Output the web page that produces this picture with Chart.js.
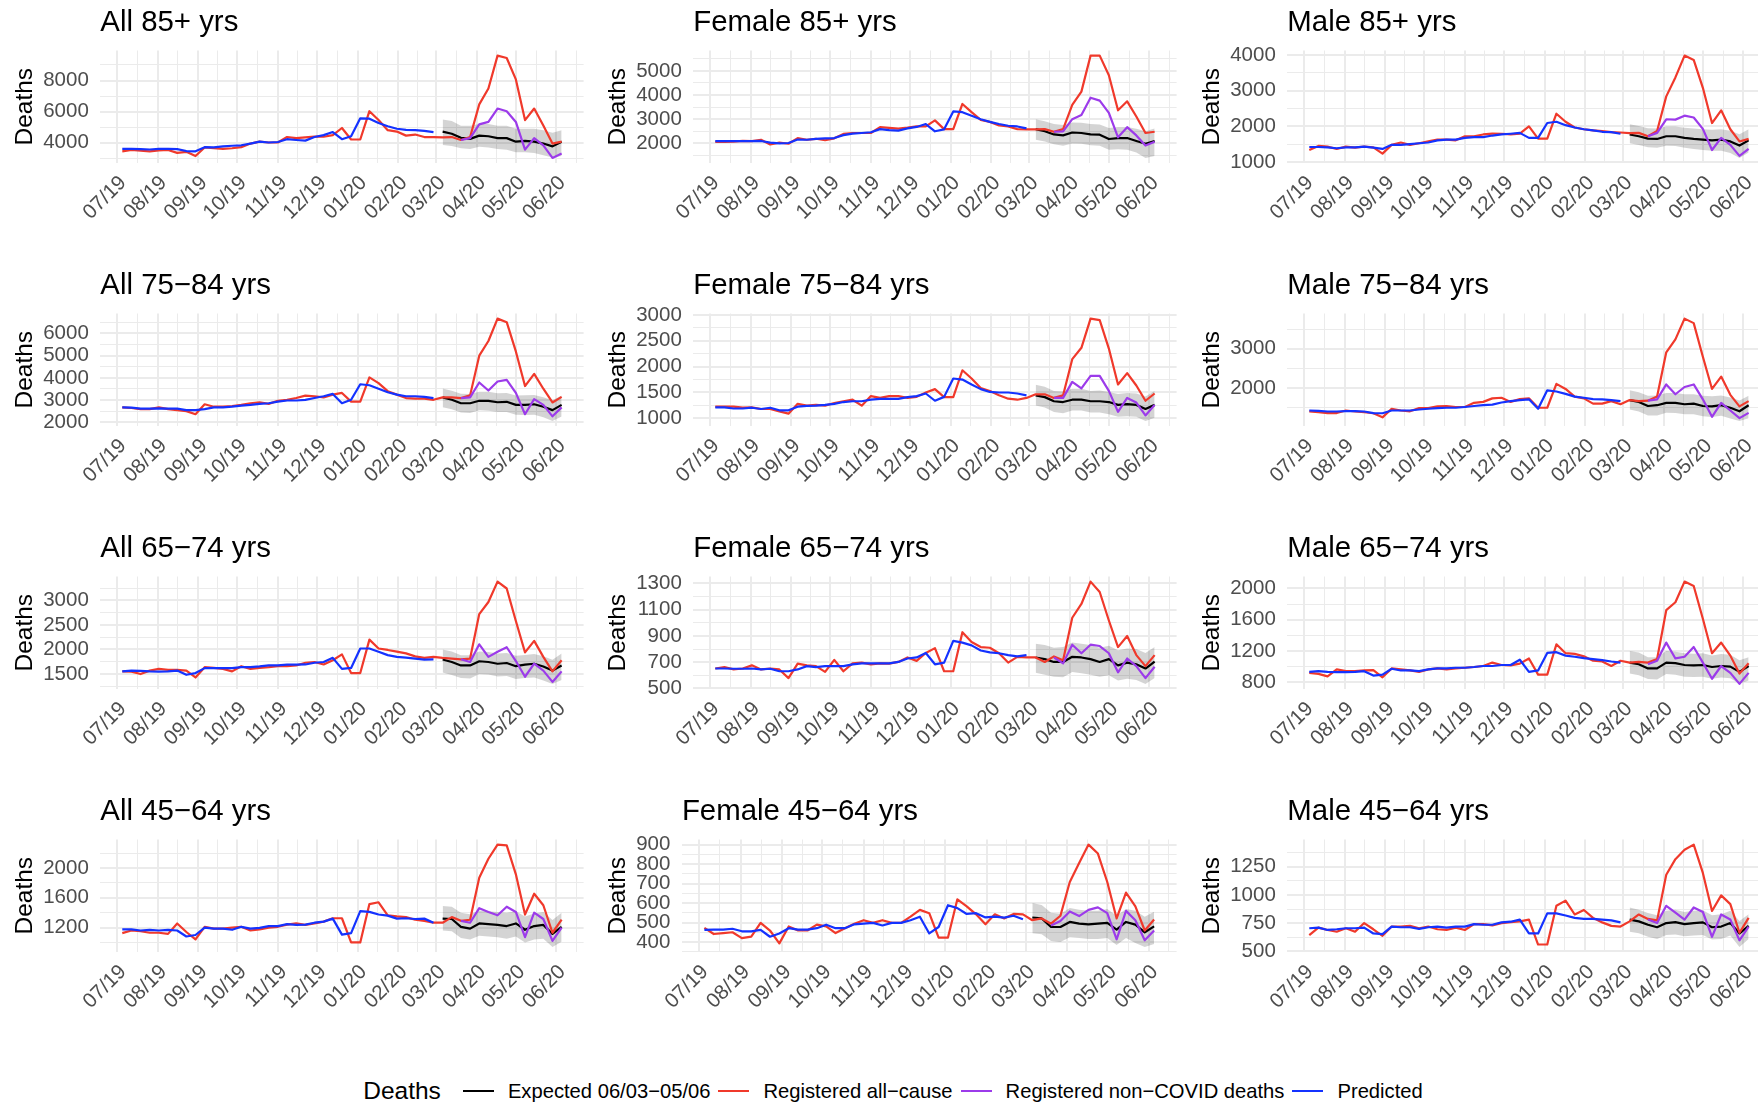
<!DOCTYPE html>
<html>
<head>
<meta charset="utf-8">
<title>Weekly deaths by sex and age group</title>
<script src="https://cdn.jsdelivr.net/npm/chart.js@4.4.0/dist/chart.umd.min.js"></script>
<style>
  html, body { margin: 0; padding: 0; background: #ffffff; overflow: hidden; width: 1758px; height: 1103px; }
  .panel { position: absolute; }
  #legend {
    position: absolute; left: 0; top: 1075px; width: 1794px; height: 32px;
    display: flex; align-items: center; justify-content: center;
    font-family: "Liberation Sans", Arimo, Arial, Helvetica, sans-serif; color: #000;
  }
  #legend .lg-title { font-size: 24.5px; margin-right: 22px; }
  #legend .lg-key { display: inline-block; width: 31px; height: 2.2px; margin-right: 14px; }
  #legend .lg-text { font-size: 20.2px; margin-right: 8px; white-space: nowrap; }
</style>
</head>
<body>
<div id="legend"></div>
<script>
// ---- categories: week-ending dates and month ticks ----
const weekEnding = [
  '2019-07-05','2019-07-12','2019-07-19','2019-07-26','2019-08-02','2019-08-09','2019-08-16','2019-08-23','2019-08-30',
  '2019-09-06','2019-09-13','2019-09-20','2019-09-27','2019-10-04','2019-10-11','2019-10-18','2019-10-25',
  '2019-11-01','2019-11-08','2019-11-15','2019-11-22','2019-11-29','2019-12-06','2019-12-13','2019-12-20','2019-12-27',
  '2020-01-03','2020-01-10','2020-01-17','2020-01-24','2020-01-31','2020-02-07','2020-02-14','2020-02-21','2020-02-28',
  '2020-03-06','2020-03-13','2020-03-20','2020-03-27','2020-04-03','2020-04-10','2020-04-17','2020-04-24',
  '2020-05-01','2020-05-08','2020-05-15','2020-05-22','2020-05-29','2020-06-05'
];
const monthStarts = ['2019-07-01','2019-08-01','2019-09-01','2019-10-01','2019-11-01','2019-12-01',
                     '2020-01-01','2020-02-01','2020-03-01','2020-04-01','2020-05-01','2020-06-01'];
const monthLabels = ['07/19','08/19','09/19','10/19','11/19','12/19','01/20','02/20','03/20','04/20','05/20','06/20'];
const monthBefore = '2019-06-01';
const monthAfter = '2020-07-01';

const panelTitles = [
  'All 85+ yrs', 'Female 85+ yrs', 'Male 85+ yrs',
  'All 75\u221284 yrs', 'Female 75\u221284 yrs', 'Male 75\u221284 yrs',
  'All 65\u221274 yrs', 'Female 65\u221274 yrs', 'Male 65\u221274 yrs',
  'All 45\u221264 yrs', 'Female 45\u221264 yrs', 'Male 45\u221264 yrs'
];
const seriesNames = ['Expected 06/03\u221205/06', 'Registered all\u2212cause', 'Registered non\u2212COVID deaths', 'Predicted'];
const yTickStep = [2000, 1000, 1000, 1000, 500, 1000, 500, 200, 400, 400, 100, 250];
const yTickBase = [0, 0, 0, 0, 0, 0, 0, 100, 0, 0, 0, 0];

// ---- All 85+ ----
const all85Registered = [3450,3540,3490,3450,3510,3540,3350,3420,3150,3700, 3650,3610,3650,3720,3950,4070,4020,4020,4370,4300,
  4350,4390,4390,4490,4950,4210,4210,6030,5460,4810, 4720,4460,4530,4370,4370,4350,4370,4180,4370,6470, 7490,9600,9450,8070,5460,6200,5110,3950,4070];
const all85Predicted = [3610,3610,3590,3570,3610,3610,3590,3470,3450,3720, 3700,3770,3810,3840,3950,4070,4020,4050,4230,4180,
  4140,4370,4490,4690,4230,4420,5570,5550,5270,5060, 4900,4830,4810,4760,4690];
const all85Expected = [4720,4580,4320,4250,4460,4420,4300,4300,4070,4120,4070,3950,3770,4070];
const all85Lower = [3850,3800,3650,3600,3750,3700,3600,3550,3400,3400,3350,3200,3050,3150];
const all85Upper = [5500,5400,5100,5100,5200,5200,5100,5100,4900,4900,4900,4800,4650,4800];
const all85NonCovid = [4180,4300,5180,5340,6200,6030,5340,3560,4300,3840,3030,3310];

// ---- Female 85+ ----
const fem85Registered = [2060,2060,2075,2100,2090,2150,1955,2030,1985,2220, 2150,2190,2130,2210,2390,2430,2430,2430,2670,2640,
  2610,2650,2700,2700,2950,2590,2590,3630,3290,2970, 2890,2740,2700,2590,2580,2580,2590,2480,2590,3590, 4140,5630,5630,4820,3370,3740,3110,2430,2480];
const fem85Predicted = [2090,2090,2090,2090,2090,2100,2030,2000,2015,2160, 2150,2190,2210,2220,2340,2400,2430,2460,2590,2550,
  2530,2620,2680,2800,2500,2580,3320,3290,3140,3000, 2890,2800,2730,2700,2620];
const fem85Expected = [2590,2500,2370,2330,2450,2430,2370,2360,2180,2220,2220,2100,1985,2100];
const fem85Lower = [2150,2080,1960,1900,2000,1980,1920,1900,1740,1760,1740,1620,1400,1480];
const fem85Upper = [3000,2920,2800,2760,2860,2850,2800,2780,2640,2680,2680,2600,2500,2620];
const fem85NonCovid = [2480,2500,3000,3170,3890,3770,3260,2250,2670,2330,1910,2070];

// ---- Male 85+ ----
const male85Registered = [1340,1455,1435,1370,1435,1405,1435,1415,1240,1485, 1550,1485,1530,1580,1630,1630,1610,1725,1725,1775,
  1800,1795,1775,1800,2000,1660,1660,2355,2130,1970, 1920,1890,1870,1840,1830,1815,1820,1725,1870,2840, 3370,3980,3860,3080,2095,2450,1920,1580,1650];
const male85Predicted = [1425,1425,1415,1390,1415,1415,1435,1405,1370,1485, 1485,1505,1530,1550,1610,1630,1630,1680,1700,1700,
  1745,1775,1795,1820,1680,1680,2095,2130,2035,1970, 1920,1890,1850,1840,1795];
const male85Expected = [1775,1725,1660,1650,1725,1725,1680,1650,1630,1610,1630,1580,1465,1610];
const male85Lower = [1530,1480,1420,1400,1460,1450,1400,1370,1340,1320,1320,1260,1120,1270];
const male85Upper = [2060,2010,1950,1940,2000,2000,1960,1940,1920,1910,1920,1880,1780,1920];
const male85NonCovid = [1725,1820,2200,2190,2300,2250,1930,1340,1680,1485,1175,1370];

// ---- All 75-84 ----
const all75Registered = [2670,2640,2590,2590,2670,2590,2545,2500,2360,2810, 2700,2700,2730,2780,2855,2900,2825,2965,3010,3090,
  3200,3170,3120,3245,3320,2930,2930,4020,3760,3400, 3245,3090,3060,3060,3010,3120,3120,3090,3210,5000, 5660,6670,6510,5190,3630,4180,3510,2890,3140];
const all75Predicted = [2670,2655,2610,2610,2625,2610,2610,2545,2545,2590, 2670,2670,2700,2750,2780,2825,2855,2930,2980,2980,
  3010,3090,3170,3275,2855,3010,3710,3665,3510,3350, 3245,3170,3170,3140,3090];
const all75Expected = [3120,3010,2855,2855,2965,2965,2900,2920,2780,2780,2810,2700,2545,2780];
const all75Lower = [2680,2580,2440,2420,2540,2520,2460,2460,2340,2320,2340,2220,2060,2260];
const all75Upper = [3520,3420,3280,3270,3370,3370,3310,3320,3200,3210,3230,3130,2990,3200];
const all75NonCovid = [3090,3120,3790,3430,3835,3910,3320,2360,3040,2780,2265,2670];

// ---- Female 75-84 ----
const fem75Registered = [1225,1225,1225,1205,1210,1180,1180,1135,1090,1280, 1245,1260,1245,1295,1330,1360,1245,1430,1395,1430,
  1430,1395,1415,1500,1565,1410,1410,1930,1770,1585, 1530,1445,1380,1360,1395,1465,1465,1395,1445,2145, 2365,2930,2900,2350,1655,1875,1635,1340,1480];
const fem75Predicted = [1210,1210,1190,1190,1205,1180,1205,1155,1155,1225, 1240,1245,1260,1280,1315,1330,1330,1360,1375,1375,
  1375,1410,1430,1480,1340,1415,1770,1750,1655,1565, 1510,1500,1500,1480,1445];
const fem75Expected = [1445,1410,1330,1315,1360,1360,1330,1330,1315,1260,1275,1260,1180,1260];
const fem75Lower = [1250,1210,1120,1100,1150,1150,1110,1110,1080,1030,1040,1030,950,1010];
const fem75Upper = [1650,1610,1530,1520,1570,1570,1530,1540,1510,1470,1490,1480,1420,1530];
const fem75NonCovid = [1395,1395,1705,1580,1820,1820,1530,1125,1395,1305,1055,1260];

// ---- Male 75-84 ----
const male75Registered = [1400,1380,1360,1360,1425,1400,1380,1355,1250,1470, 1425,1405,1485,1485,1530,1540,1515,1515,1620,1645,
  1735,1750,1645,1715,1735,1495,1495,2105,1975,1780, 1735,1600,1600,1665,1585,1690,1665,1675,1780,2910, 3240,3770,3655,2795,1975,2290,1825,1530,1665];
const male75Predicted = [1425,1415,1400,1400,1410,1410,1400,1360,1355,1425, 1425,1425,1450,1470,1485,1495,1495,1515,1540,1560,
  1575,1630,1665,1690,1710,1470,1940,1910,1850,1780, 1750,1715,1710,1690,1665];
const male75Expected = [1690,1645,1540,1560,1620,1620,1585,1600,1540,1530,1560,1495,1405,1560];
const male75Lower = [1450,1400,1300,1300,1370,1360,1330,1330,1280,1260,1290,1220,1160,1230];
const male75Upper = [1940,1890,1800,1810,1870,1870,1840,1840,1800,1790,1810,1760,1680,1800];
const male75NonCovid = [1675,1710,2090,1840,2025,2090,1710,1265,1620,1425,1230,1365];

// ---- All 65-74 ----
const all65Registered = [1555,1550,1500,1570,1605,1585,1585,1570,1430,1640, 1625,1605,1555,1660,1605,1625,1640,1660,1660,1675,
  1730,1745,1695,1780,1900,1520,1520,2200,2020,1990, 1955,1920,1860,1830,1850,1830,1815,1800,1815,2720, 2965,3380,3240,2580,1940,2175,1850,1555,1780];
const all65Predicted = [1555,1570,1565,1555,1550,1555,1570,1485,1520,1620, 1620,1620,1620,1640,1640,1655,1675,1675,1690,1690,
  1695,1730,1745,1830,1605,1625,2020,2020,1955,1885, 1850,1835,1815,1795,1800];
const all65Expected = [1795,1745,1675,1675,1760,1745,1710,1725,1660,1690,1710,1655,1570,1675];
const all65Lower = [1530,1480,1420,1410,1500,1490,1450,1460,1400,1420,1430,1370,1300,1380];
const all65Upper = [2000,1960,1880,1880,1960,1950,1920,1930,1870,1890,1910,1860,1790,1920];
const all65NonCovid = [1800,1745,2105,1850,1955,2045,1765,1445,1710,1570,1340,1555];

// ---- Female 65-74 ----
const fem65Registered = [652,663,645,652,676,645,652,645,579,689, 676,670,626,718,631,691,697,684,691,689,
  702,736,710,770,807,631,631,928,854,815, 810,768,697,741,736,736,702,744,715,1038, 1143,1313,1234,1017,815,899,754,670,754];
const fem65Predicted = [652,652,650,650,652,645,650,631,631,645, 670,663,670,670,670,684,691,691,691,691,
  702,728,736,770,684,697,862,849,828,789, 775,768,754,744,754];
const fem65Expected = [736,723,702,702,741,736,723,702,723,676,697,684,652,705];
const fem65Lower = [620,605,590,585,625,615,605,590,600,560,575,565,535,580];
const fem65Upper = [840,830,810,815,850,840,830,810,825,790,805,800,770,815];
const fem65NonCovid = [736,691,833,768,833,823,768,623,728,670,579,665];

// ---- Male 65-74 ----
const male65Registered = [919,906,875,963,941,941,950,954,862,976, 963,950,932,963,976,963,976,985,994,1007,
  1051,1020,1016,1038,1104,897,897,1285,1171,1162, 1131,1074,1065,1007,1074,1051,1060,1051,1096,1722, 1824,2088,2031,1612,1171,1307,1140,910,1043];
const male65Predicted = [932,941,932,928,928,932,941,884,897,972, 950,950,941,963,976,976,985,985,994,1007,
  1007,1020,1020,1087,932,950,1175,1184,1140,1126, 1109,1096,1082,1065,1051];
const male65Expected = [1051,1029,976,976,1051,1043,1020,1016,1020,994,1007,999,932,1007];
const male65Lower = [910,890,840,835,905,895,870,865,870,845,860,850,780,820];
const male65Upper = [1200,1180,1120,1120,1200,1190,1170,1165,1170,1140,1160,1150,1080,1120];
const male65NonCovid = [1029,1074,1307,1104,1126,1250,1051,844,1007,919,778,919];

// ---- All 45-64 ----
const all45Registered = [1125,1160,1150,1130,1130,1115,1255,1140,1040,1210, 1185,1185,1200,1210,1160,1175,1200,1210,1240,1255,
  1235,1255,1280,1325,1325,1000,1000,1515,1540,1365, 1350,1340,1305,1290,1265,1265,1340,1290,1305,1870, 2125,2315,2305,1915,1375,1655,1500,1130,1305];
const all45Predicted = [1175,1175,1160,1170,1160,1170,1160,1080,1100,1200, 1185,1185,1170,1210,1185,1195,1220,1220,1245,1235,
  1240,1265,1280,1320,1105,1125,1420,1410,1375,1360, 1320,1325,1315,1320,1265];
const all45Expected = [1320,1315,1210,1185,1255,1245,1235,1220,1255,1170,1220,1235,1115,1210];
const all45Lower = [1160,1150,1060,1040,1090,1080,1070,1050,1080,1000,1040,1050,940,1010];
const all45Upper = [1490,1480,1400,1380,1430,1420,1410,1400,1420,1350,1390,1410,1300,1400];
const all45NonCovid = [1290,1265,1460,1410,1365,1480,1410,1070,1400,1315,1020,1200];

// ---- Female 45-64 ----
const fem45Registered = [473,441,446,450,420,428,498,459,393,480, 459,459,489,480,446,471,494,512,498,512,
  498,498,530,565,548,423,423,619,583,542, 491,542,521,544,542,512,521,494,535,708, 806,900,854,708,521,654,583,459,516];
const fem45Predicted = [462,464,464,468,455,455,462,427,444,471, 464,464,471,489,471,471,491,494,498,485,
  498,498,512,530,444,477,589,574,544,548, 526,530,525,535,517];
const fem45Expected = [526,521,477,477,503,494,491,494,498,464,503,489,450,480];
const fem45Lower = [445,440,405,400,425,420,415,415,420,385,420,395,375,390];
const fem45Upper = [600,590,550,545,575,565,560,560,570,535,570,560,530,555];
const fem45NonCovid = [485,508,557,533,565,578,548,414,560,512,409,459];

// ---- Male 45-64 ----
const male45Registered = [644,711,690,674,705,674,751,696,638,720, 720,726,705,720,696,690,711,690,742,742,
  730,751,760,766,782,561,561,904,950,827, 867,797,757,726,720,766,827,788,775,1179, 1317,1400,1446,1195,858,996,919,665,797];
const male45Predicted = [705,711,690,696,705,705,711,659,653,720, 714,714,699,714,720,711,720,720,742,736,
  736,757,763,782,659,659,837,837,818,797, 788,788,782,775,757];
const male45Expected = [782,766,736,714,751,760,742,751,757,714,720,751,659,726];
const male45Lower = [675,660,630,610,645,650,635,640,645,605,610,640,540,610];
const male45Upper = [890,870,840,820,860,870,850,860,865,820,830,860,770,830];
const male45NonCovid = [782,751,904,843,782,889,849,629,827,782,598,720];

// ---- table of series per panel (row-major) ----
const panelSeries = [
  [all85Registered, all85Predicted, all85Expected, all85Lower, all85Upper, all85NonCovid],
  [fem85Registered, fem85Predicted, fem85Expected, fem85Lower, fem85Upper, fem85NonCovid],
  [male85Registered, male85Predicted, male85Expected, male85Lower, male85Upper, male85NonCovid],
  [all75Registered, all75Predicted, all75Expected, all75Lower, all75Upper, all75NonCovid],
  [fem75Registered, fem75Predicted, fem75Expected, fem75Lower, fem75Upper, fem75NonCovid],
  [male75Registered, male75Predicted, male75Expected, male75Lower, male75Upper, male75NonCovid],
  [all65Registered, all65Predicted, all65Expected, all65Lower, all65Upper, all65NonCovid],
  [fem65Registered, fem65Predicted, fem65Expected, fem65Lower, fem65Upper, fem65NonCovid],
  [male65Registered, male65Predicted, male65Expected, male65Lower, male65Upper, male65NonCovid],
  [all45Registered, all45Predicted, all45Expected, all45Lower, all45Upper, all45NonCovid],
  [fem45Registered, fem45Predicted, fem45Expected, fem45Lower, fem45Upper, fem45NonCovid],
  [male45Registered, male45Predicted, male45Expected, male45Lower, male45Upper, male45NonCovid]
];

// ---- styling ----
const FONT = '"Liberation Sans", Arimo, Arial, Helvetica, sans-serif';
const COLOR_EXPECTED = '#000000';
const COLOR_REGISTERED = '#F0392B';
const COLOR_NONCOVID = '#9C3BEA';
const COLOR_PREDICTED = '#1432FF';
const RIBBON_FILL = 'rgba(0,0,0,0.17)';
const GRID_COLOR = '#EBEBEB';
const TICK_COLOR = '#4D4D4D';
const TICK_SIZE = 20.5, AXIS_TITLE_SIZE = 24.5, TITLE_SIZE = 29.4;
const LINE_W = 2.2;

const PANEL_W = 593, PANEL_H = 263;
const COL_LEFT = [0, 593, 1187];
const ROW_TOP = [0, 263, 526, 789];
const PLOT_TOP = 50.5, PLOT_BOTTOM = 163, RIGHT_GAP = 9.4;
const TITLE_PAD_TOP = 5.6;
const YAXIS_EXTRA = 54.7;     // axis title + gaps beside the tick labels

Chart.defaults.font.family = FONT;

// ---- x positions (days since 1 July 2019) ----
const ORIGIN = Date.UTC(2019, 6, 1);
const dayOf = s => (Date.parse(s + 'T00:00:00Z') - ORIGIN) / 86400000;
const weekX = weekEnding.map(dayOf);
const xSpan = weekX[weekX.length - 1] - weekX[0];
const X_MIN = weekX[0] - 0.05 * xSpan;
const X_MAX = weekX[weekX.length - 1] + 0.05 * xSpan;
const majorX = monthStarts.map(dayOf);
const monthEdges = [dayOf(monthBefore), ...majorX, dayOf(monthAfter)];
const minorX = monthEdges.slice(1).map((d, i) => (d + monthEdges[i]) / 2).filter(v => v >= X_MIN && v <= X_MAX);
const xTickValues = [...majorX, ...minorX].sort((a, b) => a - b);
const xLabelOf = new Map(majorX.map((d, i) => [d, monthLabels[i]]));

function points(values, alignEnd) {
  const offset = alignEnd ? weekX.length - values.length : 0;
  return values.map((v, i) => ({ x: weekX[offset + i], y: v }));
}

function yTicksFor(min, max, step, base) {
  const majors = [], minors = [];
  for (let v = base + Math.ceil((min - base) / step) * step; v <= max; v += step) majors.push(v);
  for (let m = majors[0] - step / 2; m <= max; m += step) if (m >= min) minors.push(m);
  return { majors, minors };
}

const measureCtx = document.createElement('canvas').getContext('2d');
measureCtx.font = TICK_SIZE + 'px ' + FONT;

panelTitles.forEach((title, p) => {
  const [registered, predicted, expected, lower, upper, nonCovid] = panelSeries[p];
  const everything = [...registered, ...predicted, ...expected, ...lower, ...upper, ...nonCovid];
  const lo = Math.min(...everything), hi = Math.max(...everything);
  const yMin = lo - 0.05 * (hi - lo), yMax = hi + 0.05 * (hi - lo);
  const { majors, minors } = yTicksFor(yMin, yMax, yTickStep[p], yTickBase[p]);
  const majorY = new Set(majors);
  const yTickValues = [...majors, ...minors].sort((a, b) => a - b);
  const yAxisWidth = YAXIS_EXTRA + Math.max(...majors.map(m => measureCtx.measureText(String(m)).width));

  const wrap = document.createElement('div');
  wrap.className = 'panel';
  wrap.style.left = COL_LEFT[p % 3] + 'px';
  wrap.style.top = ROW_TOP[Math.floor(p / 3)] + 'px';
  const canvas = document.createElement('canvas');
  canvas.width = PANEL_W; canvas.height = PANEL_H;
  canvas.style.width = PANEL_W + 'px'; canvas.style.height = PANEL_H + 'px';
  wrap.appendChild(canvas);
  document.body.appendChild(wrap);

  const line = (label, data, color, order) => ({
    label, data, borderColor: color, backgroundColor: color, borderWidth: LINE_W,
    pointRadius: 0, fill: false, tension: 0, borderJoinStyle: 'round', order
  });

  new Chart(canvas, {
    type: 'line',
    data: {
      datasets: [
        { label: 'lower', data: points(lower, true), borderColor: 'rgba(0,0,0,0)', borderWidth: 0,
          pointRadius: 0, fill: false, order: 6 },
        { label: 'upper', data: points(upper, true), borderColor: 'rgba(0,0,0,0)', borderWidth: 0,
          pointRadius: 0, backgroundColor: RIBBON_FILL, fill: '-1', order: 5 },
        line(seriesNames[0], points(expected, true), COLOR_EXPECTED, 4),
        line(seriesNames[1], points(registered, false), COLOR_REGISTERED, 3),
        line(seriesNames[2], points(nonCovid, true), COLOR_NONCOVID, 2),
        line(seriesNames[3], points(predicted, false), COLOR_PREDICTED, 1)
      ]
    },
    options: {
      responsive: false,
      animation: false,
      devicePixelRatio: 1,
      events: [],
      layout: { padding: { left: 0, right: RIGHT_GAP, top: 0, bottom: 0 }, autoPadding: false },
      plugins: {
        legend: { display: false },
        tooltip: { enabled: false },
        title: {
          display: true, text: title, align: 'start', fullSize: false, color: '#000000',
          font: { size: TITLE_SIZE, weight: 'normal', lineHeight: 1.2 },
          padding: { top: TITLE_PAD_TOP, bottom: PLOT_TOP - TITLE_PAD_TOP - TITLE_SIZE * 1.2 }
        }
      },
      scales: {
        x: {
          type: 'linear', min: X_MIN, max: X_MAX, bounds: 'data',
          afterBuildTicks: s => { s.ticks = xTickValues.map(v => ({ value: v })); },
          afterFit: s => { s.height = PANEL_H - PLOT_BOTTOM; s.paddingLeft = 0; s.paddingRight = 0; },
          grid: { color: GRID_COLOR, drawTicks: false,
                  lineWidth: c => (c.tick && xLabelOf.has(c.tick.value)) ? 2 : 1 },
          border: { display: false },
          ticks: {
            autoSkip: false, minRotation: 45, maxRotation: 45, padding: 8, labelOffset: 6,
            color: TICK_COLOR, font: { size: TICK_SIZE },
            callback: v => xLabelOf.get(v) || ''
          }
        },
        y: {
          type: 'linear', min: yMin, max: yMax, bounds: 'data',
          afterBuildTicks: s => { s.ticks = yTickValues.map(v => ({ value: v })); },
          afterFit: s => { s.width = yAxisWidth; s.paddingTop = 0; s.paddingBottom = 0; },
          grid: { color: GRID_COLOR, drawTicks: false,
                  lineWidth: c => (c.tick && majorY.has(c.tick.value)) ? 2 : 1 },
          border: { display: false },
          ticks: {
            autoSkip: false, padding: 11.5, color: TICK_COLOR, font: { size: TICK_SIZE },
            callback: v => majorY.has(v) ? String(v) : ''
          },
          title: {
            display: true, text: 'Deaths', color: '#000000',
            font: { size: AXIS_TITLE_SIZE, lineHeight: 1.2 },
            padding: { top: 10.3, bottom: 0 }
          }
        }
      }
    }
  });
});

// ---- shared legend ----
const legend = document.getElementById('legend');
const lgTitle = document.createElement('span');
lgTitle.className = 'lg-title';
lgTitle.textContent = 'Deaths';
legend.appendChild(lgTitle);
[COLOR_EXPECTED, COLOR_REGISTERED, COLOR_NONCOVID, COLOR_PREDICTED].forEach((color, i) => {
  const key = document.createElement('span');
  key.className = 'lg-key';
  key.style.background = color;
  const text = document.createElement('span');
  text.className = 'lg-text';
  text.textContent = seriesNames[i];
  legend.appendChild(key);
  legend.appendChild(text);
});
</script>
</body>
</html>
